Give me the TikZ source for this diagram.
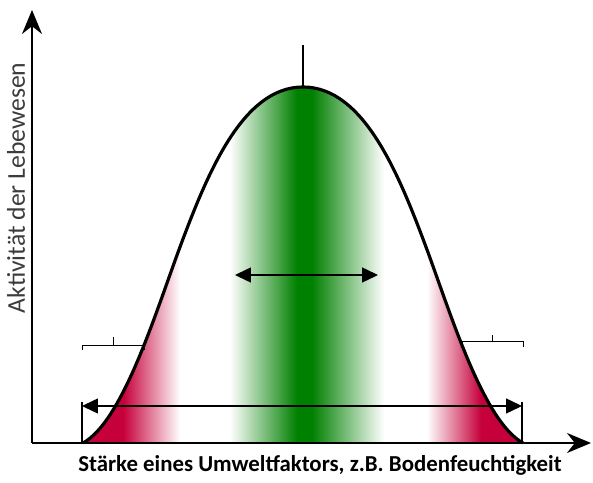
\documentclass[tikz,border=0pt]{standalone}
\usepackage{fontspec}
\setmainfont{Carlito}
\usepackage{tikz}
\usetikzlibrary{arrows.meta,positioning,calc}
\definecolor{optgreen}{RGB}{0,128,0}
\definecolor{pesred}{RGB}{198,0,58}
\definecolor{labelgray}{RGB}{60,60,60}

% bell curve of the tolerance range (pixel grid, y downwards)
\newcommand{\bellcurve}{(83,443) .. controls (123,421) and (155.5,312.8) .. (180,247) .. controls (208,171.8) and (243,87) .. (303,87) .. controls (363,87) and (398,171.8) .. (426,247) .. controls (450.5,312.8) and (483,421) .. (523,443)}

\begin{document}
\begin{tikzpicture}[
    x=0.02cm, y=-0.02cm,
    axis/.style={line width=1.1pt, -{Stealth[length=0.48cm, width=0.4cm]}},
    bell/.style={line width=1.8pt},
    span/.style={line width=0.85pt, {Triangle[length=0.32cm, width=0.3cm]}-{Triangle[length=0.32cm, width=0.3cm]}},
    bar/.style={line width=1pt},
    bracket/.style={line width=0.55pt},
]
\useasboundingbox (0,0) rectangle (593,483);

% === Colour bands inside the curve ===
\begin{scope}
\clip \bellcurve -- cycle;
\shade[left color=white, right color=optgreen] (230,80) rectangle (297,443);
\fill[optgreen] (297,80) rectangle (312,443);
\shade[left color=optgreen, right color=white] (312,80) rectangle (384,443);
\fill[pesred] (78,80) rectangle (123,443);
\shade[left color=pesred, right color=white] (123,80) rectangle (180,443);
\shade[left color=white, right color=pesred] (427,80) rectangle (481,443);
\fill[pesred] (481,80) rectangle (528,443);
\end{scope}

% === Curve ===
\draw[bell] \bellcurve;

% === Axes ===
\coordinate (origin) at (32,443);
\coordinate (ytip) at (32,10);
\coordinate (xtip) at (591,443);
\draw[axis] (origin) -- (ytip);
\draw[axis] (origin) -- (xtip);

\node[rotate=90, font=\fontsize{14.6}{16}\selectfont, text=labelgray] (ylabel) at (16,188) {Aktivität der Lebewesen};
\node[font=\fontsize{13}{15}\selectfont\bfseries] (xlabel) at (320,465) {Stärke eines Umweltfaktors, z.B. Bodenfeuchtigkeit};

% === Optimum ===
\coordinate (peak) at (303,87);
\coordinate (peaktop) at (303,45);
\draw[line width=0.8pt] (peak) -- (peaktop);

\coordinate (midL) at (235,275);
\coordinate (midR) at (378,275);
\draw[span] (midL) -- (midR);

% === Tolerance range ===
\coordinate (lowL) at (82,406);
\coordinate (lowR) at (522,406);
\coordinate (barL) at (82,402);
\coordinate (barR) at (522,402);
\draw[bar] (barL) -- (barL |- origin);
\draw[bar] (barR) -- (barR |- origin);
\draw[span] (lowL) -- (lowR);

% === Pessimum brackets ===
\draw[bracket] (82,350) -- (82,345) -- (144,345) -- (144,350);
\draw[bracket] (113,345) -- (113,337);
\draw[bracket] (462,347) -- (462,341) -- (523,341) -- (523,347);
\draw[bracket] (492,341) -- (492,335);

\end{tikzpicture}
\end{document}
